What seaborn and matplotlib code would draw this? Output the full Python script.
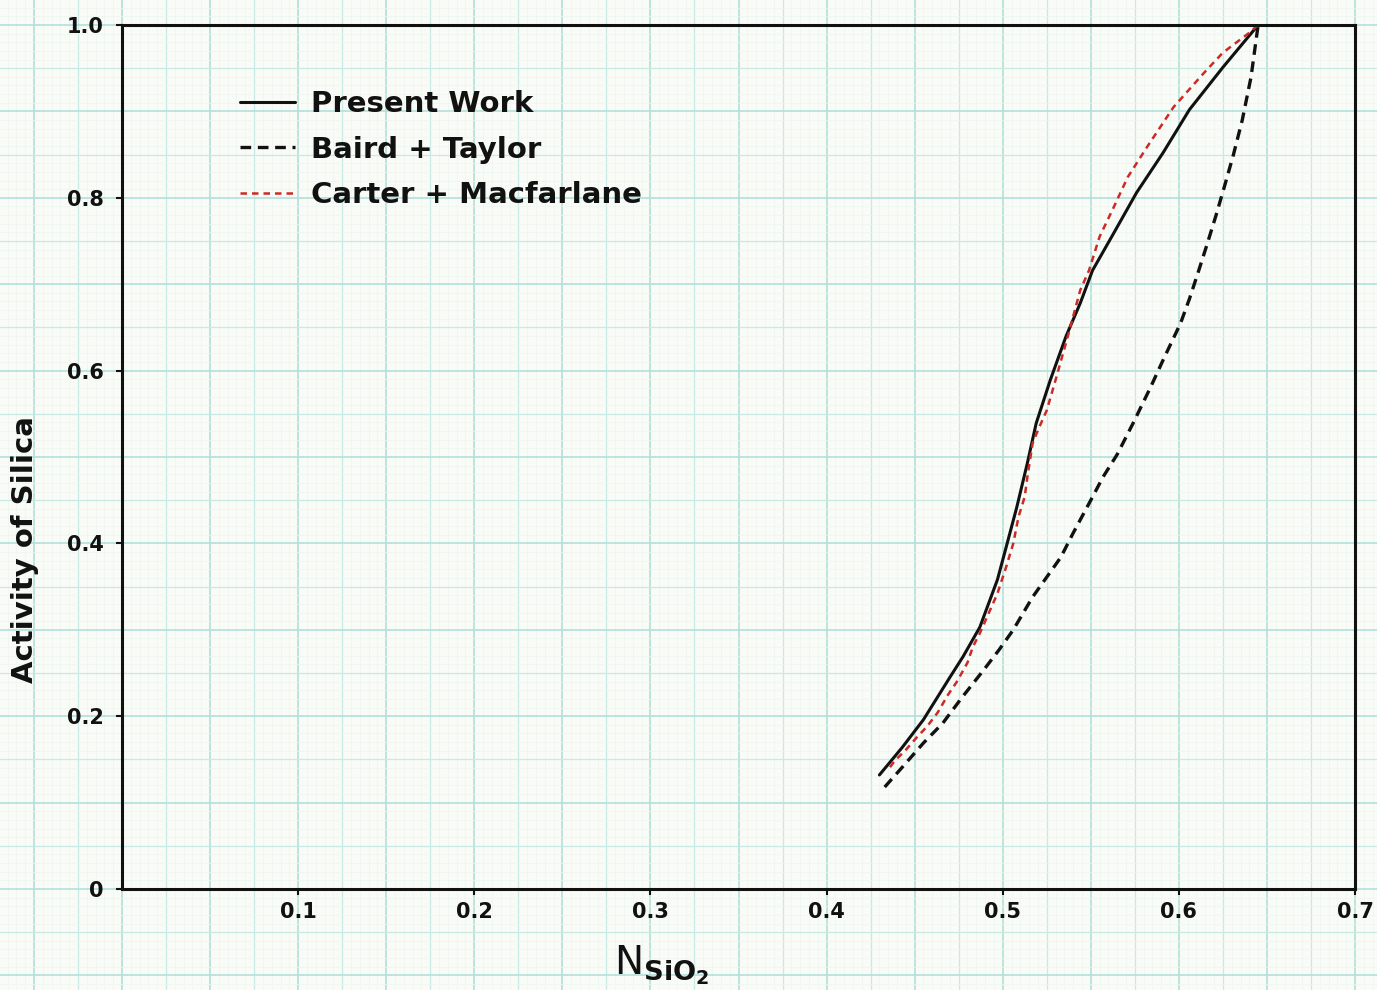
import numpy as np
import pandas as pd
import matplotlib
matplotlib.use("Agg")
import matplotlib.pyplot as plt
import seaborn as sns

# ---- data ----
present_x = [0.430, 0.443, 0.455, 0.470, 0.4775, 0.487, 0.497, 0.502, 0.508,
             0.514, 0.519, 0.527, 0.536, 0.544, 0.551, 0.563, 0.576, 0.591,
             0.606, 0.625, 0.645]
present_y = [0.132, 0.164, 0.196, 0.245, 0.269, 0.303, 0.358, 0.396, 0.442,
             0.493, 0.539, 0.589, 0.640, 0.678, 0.716, 0.759, 0.806, 0.852,
             0.902, 0.951, 1.000]

baird_x = [0.433, 0.443, 0.455, 0.466, 0.477, 0.489, 0.498, 0.506, 0.517,
           0.525, 0.533, 0.540, 0.550, 0.557, 0.565, 0.574, 0.584, 0.591,
           0.601, 0.606, 0.611, 0.616, 0.621, 0.626, 0.631, 0.636, 0.641,
           0.645]
baird_y = [0.118, 0.141, 0.169, 0.192, 0.222, 0.253, 0.277, 0.300, 0.338,
           0.361, 0.384, 0.412, 0.450, 0.477, 0.503, 0.539, 0.581, 0.612,
           0.655, 0.683, 0.714, 0.746, 0.779, 0.814, 0.850, 0.890, 0.940,
           1.000]

carter_x = [0.436, 0.439, 0.445, 0.451, 0.457, 0.463, 0.469, 0.474, 0.480,
            0.483, 0.487, 0.492, 0.497, 0.502, 0.506, 0.509, 0.5125, 0.514,
            0.517, 0.520, 0.525, 0.530, 0.537, 0.544, 0.549, 0.555, 0.563,
            0.571, 0.582, 0.597, 0.614, 0.625, 0.640, 0.645]
carter_y = [0.141, 0.149, 0.161, 0.175, 0.188, 0.204, 0.225, 0.240, 0.262,
            0.280, 0.296, 0.319, 0.342, 0.373, 0.400, 0.431, 0.454, 0.477,
            0.516, 0.531, 0.554, 0.589, 0.640, 0.693, 0.716, 0.755, 0.789,
            0.824, 0.859, 0.905, 0.944, 0.968, 0.991, 1.000]

labels = ["Present Work", "Baird + Taylor", "Carter + Macfarlane"]
x_ticks = [0.1, 0.2, 0.3, 0.4, 0.5, 0.6, 0.7]
y_ticks = [0, 0.2, 0.4, 0.6, 0.8, 1.0]
y_ticklabels = ["0", "0.2", "0.4", "0.6", "0.8", "1.0"]

sns.set_theme(style="white")
plt.rcParams["font.family"] = ["DejaVu Sans"]

W, H = 1377, 990
fig = plt.figure(figsize=(W / 100, H / 100), dpi=100)
paper = "#f9fbf7"
fig.patch.set_facecolor(paper)

# main axes placement (pixels)
L, R, T, B = 122, 1355, 25, 889
xmin, xmax = 0.0, 0.7
ymin, ymax = 0.0, 1.0
ppx = (R - L) / (xmax - xmin)
ppy = (B - T) / (ymax - ymin)

# background graph-paper axes spanning the whole figure, same data scale
bg = fig.add_axes([0, 0, 1, 1], zorder=0)
bx0 = xmin - L / ppx
bx1 = xmax + (W - R) / ppx
by0 = ymin - (H - B) / ppy
by1 = ymax + T / ppy
bg.set_xlim(bx0, bx1)
bg.set_ylim(by0, by1)
bg.set_facecolor(paper)
for s in bg.spines.values():
    s.set_visible(False)
bg.set_xticks([]); bg.set_yticks([])

fine_c, med_c, maj_c = "#edf6f2", "#c9e9e5", "#b3e0dc"
for i in range(int(np.floor(bx0 / 0.005)), int(np.ceil(bx1 / 0.005)) + 1):
    xv = i * 0.005
    if i % 10 == 0:
        bg.axvline(xv, color=maj_c, lw=1.2)
    elif i % 5 == 0:
        bg.axvline(xv, color=med_c, lw=0.9)
    else:
        bg.axvline(xv, color=fine_c, lw=0.5)
for j in range(int(np.floor(by0 / 0.01)), int(np.ceil(by1 / 0.01)) + 1):
    yv = j * 0.01
    if j % 10 == 0:
        bg.axhline(yv, color=maj_c, lw=1.2)
    elif j % 5 == 0:
        bg.axhline(yv, color=med_c, lw=0.9)
    else:
        bg.axhline(yv, color=fine_c, lw=0.5)

ax = fig.add_axes([L / W, 1 - B / H, (R - L) / W, (B - T) / H], zorder=1)
ax.patch.set_alpha(0)

df_p = pd.DataFrame({"x": present_x, "y": present_y})
df_b = pd.DataFrame({"x": baird_x, "y": baird_y})
df_c = pd.DataFrame({"x": carter_x, "y": carter_y})

sns.lineplot(data=df_p, x="x", y="y", ax=ax, sort=False, estimator=None,
             color="#111111", lw=2.2, label=labels[0])
sns.lineplot(data=df_b, x="x", y="y", ax=ax, sort=False, estimator=None,
             color="#111111", lw=2.4, linestyle=(0, (3.2, 2.0)), label=labels[1])
sns.lineplot(data=df_c, x="x", y="y", ax=ax, sort=False, estimator=None,
             color="#cc2a26", lw=1.8, linestyle=(0, (2.6, 2.0)), label=labels[2])

ax.set_xlim(xmin, xmax)
ax.set_ylim(ymin, ymax)
for s in ax.spines.values():
    s.set_visible(True)
    s.set_color("#111111")
    s.set_linewidth(2.2)

ax.set_xticks(x_ticks)
ax.set_xticklabels([f"{v:.1f}" for v in x_ticks], fontsize=15, fontweight="bold")
ax.set_yticks(y_ticks)
ax.set_yticklabels(y_ticklabels, fontsize=15, fontweight="bold")
ax.tick_params(axis="both", direction="out", length=4, width=1.5,
               color="#111111", labelcolor="#111111")
ax.tick_params(axis="x", pad=5, bottom=True)
ax.tick_params(axis="y", pad=9, left=True)

ax.set_xlabel(r"N$_{\mathbf{SiO_2}}$", fontsize=28, color="#111111")
ax.xaxis.label.set_va("center")
ax.xaxis.set_label_coords((662 - L) / (R - L), -(965 - B) / (B - T))
ax.set_ylabel("Activity of Silica", fontsize=21, fontweight="bold", color="#111111")
ax.yaxis.label.set_va("center")
ax.yaxis.set_label_coords((25 - L) / (R - L), (B - 550) / (B - T))

leg = ax.legend(loc="upper left",
                bbox_to_anchor=((240 - L) / (R - L), (B - 90) / (B - T)),
                frameon=False, fontsize=21, handlelength=1.9,
                handletextpad=0.55, labelspacing=0.6, borderaxespad=0,
                borderpad=0)
for t in leg.get_texts():
    t.set_fontweight("bold")
    t.set_color("#111111")

fig.savefig("out.png", dpi=100, facecolor=paper)
